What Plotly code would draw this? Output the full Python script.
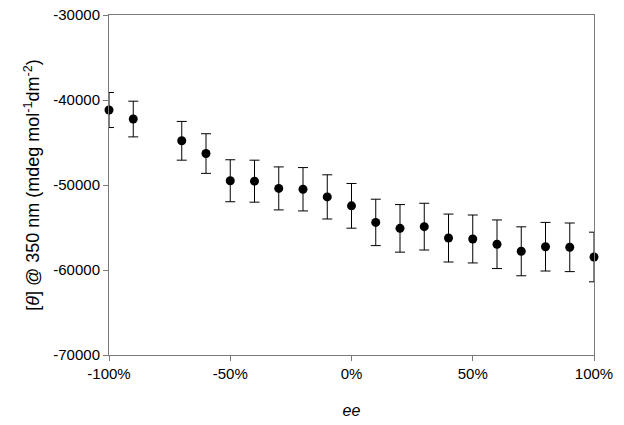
import plotly.graph_objects as go

ee = [-100, -90, -70, -60, -50, -40, -30, -20, -10, 0, 10, 20, 30, 40, 50, 60, 70, 80, 90, 100]
theta = [-41180, -42240, -44800, -46300, -49500, -49550, -50400, -50500, -51400, -52450,
         -54400, -55100, -54900, -56240, -56350, -56970, -57800, -57260, -57330, -58470]
err = [2060, 2100, 2280, 2330, 2470, 2470, 2530, 2550, 2600, 2630,
       2730, 2800, 2750, 2820, 2820, 2860, 2880, 2860, 2860, 2920]

x_tickvals = [-100, -50, 0, 50, 100]
x_ticktext = ["-100%", "-50%", "0%", "50%", "100%"]
y_tickvals = [-70000, -60000, -50000, -40000, -30000]
y_ticktext = ["-70000", "-60000", "-50000", "-40000", "-30000"]

FONT = "Liberation Sans, Arial, sans-serif"
AXC = "#7a7a7a"

fig = go.Figure()
fig.add_trace(go.Scatter(
    x=ee, y=theta, mode="markers",
    marker=dict(color="black", size=9, symbol="circle"),
    error_y=dict(type="data", array=err, visible=True, color="black", thickness=1, width=5),
    cliponaxis=False,
    showlegend=False,
))

fig.update_layout(
    width=624, height=425,
    margin=dict(l=109, r=30, t=15, b=70),
    paper_bgcolor="white", plot_bgcolor="white",
    font=dict(family=FONT, size=15, color="black"),
    xaxis=dict(
        range=[-100, 100], tickvals=x_tickvals, ticktext=x_ticktext,
        showgrid=False, zeroline=False,
        showline=True, linecolor=AXC, linewidth=1, mirror=True,
        ticks="outside", ticklen=5, tickcolor=AXC, tickwidth=1,
        tickfont=dict(size=15), ticklabeloverflow="allow",
        title=dict(text="<i>ee</i>", font=dict(size=16), standoff=23),
        automargin=False,
    ),
    yaxis=dict(
        range=[-70000, -30000], tickvals=y_tickvals, ticktext=y_ticktext,
        showgrid=False, zeroline=False,
        showline=True, linecolor=AXC, linewidth=1, mirror=True,
        ticks="outside", ticklen=5, tickcolor=AXC, tickwidth=1,
        tickfont=dict(size=15), ticklabeloverflow="allow",
        title=dict(text="[<i>θ</i>] @ 350 nm (mdeg mol<sup>-1</sup>dm<sup>-2</sup>)",
                   font=dict(size=18), standoff=8),
        automargin=False,
    ),
)

fig.write_html("out.html", config={"displayModeBar": False},
               post_script="document.body.style.margin='0';")
